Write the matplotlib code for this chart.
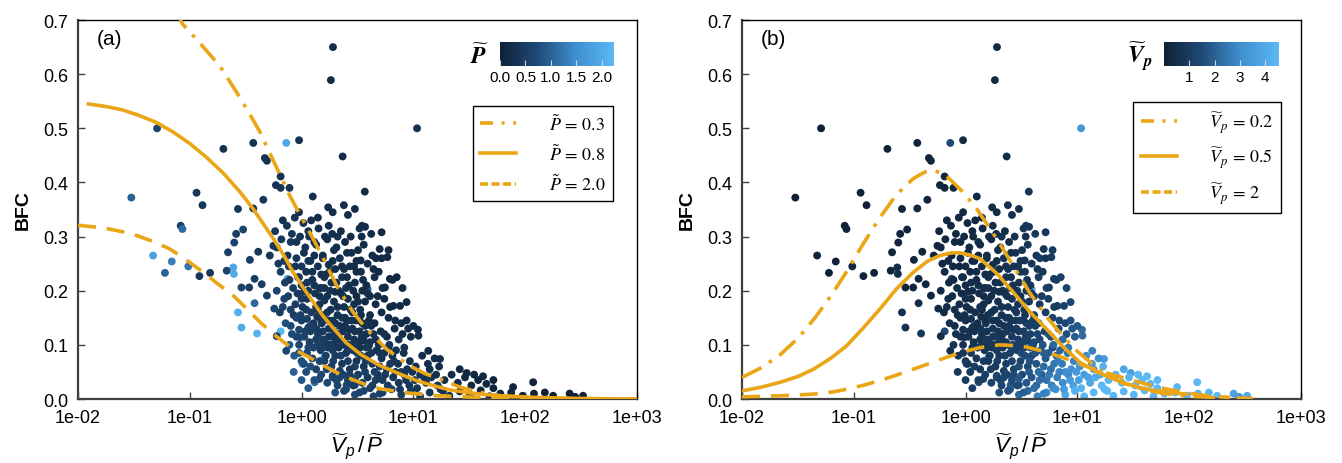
import numpy as np
import matplotlib.pyplot as plt
from matplotlib.colors import LinearSegmentedColormap, Normalize
from matplotlib.font_manager import FontProperties
from matplotlib.lines import Line2D
from matplotlib.ticker import FixedLocator, FuncFormatter, NullLocator

plt.rcParams['font.family'] = ['Liberation Sans', 'DejaVu Sans']
plt.rcParams['mathtext.fontset'] = 'custom'
plt.rcParams['mathtext.rm'] = 'Liberation Sans'
plt.rcParams['mathtext.it'] = 'Liberation Sans:italic'
plt.rcParams['mathtext.bf'] = 'Liberation Sans:bold'

# ---- scattered samples: ratio = Vp/P, BFC, P (Vp follows from ratio * P) ----
# isolated points outside the main cloud
ratio_outer = [
    0.051, 0.030, 0.115, 0.130, 0.083, 0.086, 0.047, 0.060,
    0.069, 0.097, 0.122, 0.152, 0.20, 0.37, 0.73, 0.95,
    0.47, 0.49, 0.65, 0.59, 0.65, 0.78, 2.33, 1.26,
    2.39, 3.0, 0.455, 0.37, 0.27, 0.30, 0.26, 0.25,
    0.22, 0.345, 0.245, 0.248, 0.214, 0.29, 0.34, 0.38,
    0.44, 0.49, 0.41, 0.52, 0.56, 0.27, 0.29, 0.40,
    0.38, 0.57, 0.64, 0.65, 0.60, 0.73, 1.02, 1.31,
    1.44, 1.60, 0.97, 1.15, 2.53, 3.0, 1.9, 2.06,
    0.75, 1.91, 1.83, 3.68, 10.8, 1.73, 3.47, 3.7,
    5.2, 5.0, 5.85, 4.63, 3.38, 6.17, 8.0, 5.57,
    8.7, 6.62, 11.1, 13.6, 17.3, 26, 35, 42,
    52, 78, 118, 178, 330, 250, 30, 3.9,
]
bfc_outer = [
    0.50, 0.372, 0.381, 0.358, 0.320, 0.314, 0.265, 0.233,
    0.254, 0.245, 0.227, 0.233, 0.462, 0.473, 0.473, 0.478,
    0.445, 0.44, 0.411, 0.395, 0.39, 0.39, 0.448, 0.374,
    0.358, 0.351, 0.368, 0.352, 0.351, 0.313, 0.305, 0.289,
    0.271, 0.257, 0.243, 0.231, 0.237, 0.206, 0.206, 0.222,
    0.212, 0.191, 0.272, 0.265, 0.283, 0.160, 0.132, 0.121,
    0.177, 0.167, 0.160, 0.125, 0.116, 0.089, 0.065, 0.031,
    0.037, 0.077, 0.114, 0.132, 0.026, 0.026, 0.043, 0.034,
    0.222, 0.650, 0.589, 0.383, 0.50, 0.354, 0.320, 0.318,
    0.308, 0.277, 0.262, 0.260, 0.256, 0.222, 0.205, 0.206,
    0.179, 0.172, 0.117, 0.089, 0.074, 0.055, 0.045, 0.042,
    0.035, 0.022, 0.031, 0.006, 0.006, 0.010, 0.048, 0.203,
]
p_outer = [
    0.6, 1.0, 0.4, 0.4, 0.5, 1.1, 1.8, 1.0,
    1.3, 1.2, 0.4, 0.4, 0.3, 0.3, 1.9, 0.3,
    0.3, 0.3, 0.3, 0.35, 0.35, 0.3, 0.2, 0.25,
    0.2, 0.2, 0.4, 0.4, 0.4, 0.6, 0.5, 0.6,
    0.5, 0.5, 1.9, 2.0, 0.6, 0.6, 0.5, 0.5,
    0.5, 0.5, 0.4, 0.4, 0.4, 2.1, 2.0, 2.1,
    1.1, 0.6, 0.5, 2.2, 0.6, 0.7, 1.4, 1.1,
    0.7, 1.7, 0.7, 0.6, 0.7, 0.6, 0.7, 0.7,
    1.8, 0.2, 0.2, 0.2, 0.3, 0.25, 0.2, 0.2,
    0.15, 0.15, 0.15, 0.2, 0.2, 0.15, 0.15, 0.15,
    0.15, 0.15, 0.2, 0.2, 0.2, 0.15, 0.15, 0.12,
    0.1, 0.08, 0.06, 0.03, 0.012, 0.015, 0.12, 1.0,
]

# main cloud, upper part (BFC > 0.15)
ratio_upper = [
    0.68, 0.95, 1.15, 1.4, 1.75, 2.1, 2.6, 3.3, 4.2, 0.82, 1.9, 1.3,
    0.6, 0.75, 0.9, 1.05, 1.2, 1.35, 1.55, 1.7, 1.95, 2.2, 2.45, 2.8,
    3.1, 3.6, 4.3, 5.2, 6.0, 0.7,
    0.65, 0.78, 0.88, 1.0, 1.1, 1.25, 1.4, 1.5, 1.65, 1.85, 2.0, 2.3,
    2.5, 2.7, 3.0, 3.4, 3.8, 4.5, 5.3, 6.5, 7.1, 1.15, 2.15, 0.95, 1.75,
    0.7, 0.8, 0.92, 1.02, 1.12, 1.22, 1.32, 1.45, 1.58, 1.7, 1.82, 1.95,
    2.1, 2.25, 2.4, 2.6, 2.85, 3.1, 3.35, 3.7, 4.1, 4.6, 5.2, 6.2,
    7.6, 0.85, 1.38, 2.0, 2.95, 1.05, 3.9, 1.6,
]
bfc_upper = [
    0.33, 0.345, 0.31, 0.335, 0.32, 0.30, 0.34, 0.315, 0.305, 0.305, 0.345, 0.29,
    0.28, 0.265, 0.29, 0.27, 0.255, 0.285, 0.265, 0.295, 0.275, 0.26, 0.29, 0.27,
    0.255, 0.285, 0.265, 0.26, 0.275, 0.255,
    0.235, 0.22, 0.245, 0.21, 0.235, 0.22, 0.245, 0.205, 0.23, 0.215, 0.24, 0.225,
    0.205, 0.245, 0.215, 0.235, 0.21, 0.225, 0.205, 0.22, 0.225, 0.2, 0.2, 0.225, 0.248,
    0.185, 0.165, 0.195, 0.17, 0.185, 0.16, 0.195, 0.175, 0.155, 0.19, 0.165, 0.18,
    0.155, 0.195, 0.17, 0.185, 0.16, 0.19, 0.165, 0.18, 0.155, 0.175, 0.16, 0.17,
    0.172, 0.155, 0.152, 0.198, 0.175, 0.198, 0.195, 0.182,
]
p_upper = [
    0.3, 0.25, 0.3, 0.2, 0.25, 0.3, 0.2, 0.25, 0.2, 0.35, 0.2, 0.3,
    0.4, 0.35, 0.3, 0.3, 0.35, 0.25, 0.3, 0.2, 0.25, 0.3, 0.2, 0.25,
    0.2, 0.2, 0.2, 0.15, 0.15, 0.45,
    0.5, 0.45, 0.35, 0.4, 0.3, 0.35, 0.3, 0.35, 0.3, 0.3, 0.25, 0.3,
    0.3, 0.25, 0.25, 0.25, 0.2, 0.2, 0.2, 0.15, 0.15, 0.4, 0.3, 0.45, 0.25,
    0.6, 0.55, 0.45, 0.45, 0.4, 0.45, 0.35, 0.35, 0.4, 0.3, 0.35, 0.3,
    0.35, 0.25, 0.3, 0.25, 0.3, 0.2, 0.25, 0.2, 0.25, 0.2, 0.2, 0.15,
    0.15, 0.5, 0.4, 0.25, 0.25, 0.4, 0.2, 0.3,
]

# main cloud, middle part (0.05 < BFC < 0.15)
ratio_mid = [
    0.8, 0.9, 1.0, 1.08, 1.18, 1.28, 1.4, 1.5, 1.62, 1.75, 1.88, 2.0,
    2.15, 2.3, 2.45, 2.6, 2.8, 3.0, 3.25, 3.5, 3.8, 4.2, 4.6, 5.1,
    5.8, 6.8, 8.0, 9.5, 11.0, 1.12, 1.95, 2.7, 3.6, 0.95, 1.55,
    0.95, 1.05, 1.15, 1.25, 1.35, 1.48, 1.6, 1.72, 1.85, 2.0, 2.15, 2.3,
    2.5, 2.7, 2.9, 3.1, 3.35, 3.6, 3.9, 4.3, 4.7, 5.2, 5.8, 6.5,
    7.3, 8.2, 9.3, 10.5, 12.0, 13.5, 15.5, 17.0, 1.4, 2.2, 3.0, 4.0, 6.0, 1.1,
]
bfc_mid = [
    0.135, 0.115, 0.145, 0.125, 0.105, 0.14, 0.12, 0.145, 0.105, 0.13, 0.115, 0.14,
    0.12, 0.105, 0.135, 0.115, 0.145, 0.125, 0.105, 0.14, 0.12, 0.135, 0.11, 0.125,
    0.115, 0.13, 0.12, 0.115, 0.128, 0.148, 0.102, 0.128, 0.108, 0.128, 0.125,
    0.085, 0.065, 0.095, 0.075, 0.055, 0.09, 0.07, 0.095, 0.06, 0.08, 0.095, 0.065,
    0.085, 0.055, 0.09, 0.07, 0.095, 0.06, 0.08, 0.065, 0.09, 0.075, 0.055, 0.08,
    0.065, 0.085, 0.07, 0.06, 0.08, 0.065, 0.075, 0.06, 0.1, 0.052, 0.1, 0.098, 0.095, 0.05,
]
p_mid = [
    0.7, 0.6, 0.5, 0.55, 0.5, 0.45, 0.45, 0.4, 0.45, 0.4, 0.4, 0.35,
    0.35, 0.4, 0.3, 0.35, 0.3, 0.3, 0.35, 0.25, 0.3, 0.25, 0.3, 0.25,
    0.25, 0.2, 0.2, 0.2, 0.2, 0.5, 0.4, 0.3, 0.3, 0.65, 0.45,
    0.8, 0.7, 0.6, 0.65, 0.6, 0.5, 0.55, 0.45, 0.5, 0.45, 0.4, 0.45,
    0.4, 0.45, 0.35, 0.4, 0.3, 0.4, 0.35, 0.4, 0.3, 0.35, 0.4, 0.3,
    0.35, 0.3, 0.3, 0.3, 0.25, 0.25, 0.2, 0.25, 0.55, 0.5, 0.35, 0.3, 0.25, 0.75,
]

# main cloud, bottom part (BFC < 0.05)
ratio_low = [
    1.3, 1.5, 1.7, 1.9, 2.1, 2.35, 2.6, 2.9, 3.2, 3.5, 3.9, 4.3,
    4.8, 5.3, 5.9, 6.6, 7.4, 8.3, 9.2, 10.3, 11.5, 13.0, 14.5, 16.5,
    19.0, 22.0, 25.0, 29.0, 33.0, 38.0, 45.0, 52.0,
    2.0, 2.5, 3.0, 3.6, 4.4, 5.3, 6.4, 7.8, 9.5, 11.5, 14.0, 17.5,
    21.0, 26.0, 32.0, 40.0, 48.0, 60.0, 75.0, 95.0, 120.0, 150.0, 280.0,
]
bfc_low = [
    0.035, 0.045, 0.03, 0.04, 0.025, 0.045, 0.035, 0.025, 0.045, 0.03, 0.04, 0.025,
    0.045, 0.035, 0.025, 0.04, 0.03, 0.045, 0.025, 0.035, 0.045, 0.03, 0.04, 0.025,
    0.035, 0.045, 0.03, 0.04, 0.025, 0.035, 0.028, 0.02,
    0.012, 0.018, 0.008, 0.015, 0.005, 0.012, 0.018, 0.008, 0.015, 0.005, 0.012, 0.018,
    0.006, 0.014, 0.008, 0.016, 0.005, 0.01, 0.012, 0.006, 0.01, 0.012, 0.004,
]
p_low = [
    0.8, 0.7, 0.7, 0.6, 0.6, 0.55, 0.55, 0.5, 0.45, 0.5, 0.45, 0.5,
    0.4, 0.45, 0.45, 0.4, 0.4, 0.35, 0.4, 0.35, 0.3, 0.3, 0.28, 0.3,
    0.25, 0.2, 0.2, 0.15, 0.15, 0.12, 0.1, 0.09,
    0.8, 0.7, 0.7, 0.6, 0.6, 0.55, 0.5, 0.5, 0.45, 0.4, 0.35, 0.3,
    0.3, 0.22, 0.18, 0.14, 0.12, 0.1, 0.08, 0.06, 0.05, 0.03, 0.012,
]

# densest core of the cloud
ratio_core = [
    1.3, 1.45, 1.6, 1.8, 2.05, 2.35, 2.55, 2.9, 3.2, 3.5,
    1.35, 1.52, 1.7, 1.9, 2.1, 2.3, 2.55, 2.75, 3.05, 3.4,
    1.2, 1.35, 1.55, 1.75, 1.95, 2.2, 2.4, 2.65, 2.95, 3.3,
    3.7, 4.0, 4.4, 4.9, 1.65, 1.9, 2.25, 2.6, 3.0, 3.4,
    3.8, 4.2, 4.5, 5.0, 5.5, 6.2, 7.0, 7.8, 8.8, 1.0,
    1.1, 0.88, 0.98, 1.2, 1.45, 1.25, 1.55, 1.9, 2.3, 2.65,
    3.1, 3.55, 4.1, 4.8, 5.5, 6.0, 6.9, 7.8, 8.7, 10.0,
]
bfc_core = [
    0.21, 0.19, 0.225, 0.2, 0.215, 0.19, 0.225, 0.2, 0.18, 0.2,
    0.17, 0.14, 0.16, 0.145, 0.17, 0.15, 0.145, 0.165, 0.145, 0.155,
    0.125, 0.11, 0.095, 0.115, 0.125, 0.135, 0.1, 0.1, 0.11, 0.125,
    0.135, 0.145, 0.12, 0.1, 0.08, 0.09, 0.08, 0.07, 0.06, 0.08,
    0.095, 0.085, 0.05, 0.06, 0.085, 0.065, 0.09, 0.05, 0.055, 0.185,
    0.165, 0.175, 0.155, 0.135, 0.205, 0.235, 0.26, 0.255, 0.245, 0.21,
    0.235, 0.22, 0.19, 0.19, 0.185, 0.15, 0.145, 0.14, 0.145, 0.135,
]
p_core = [
    0.35, 0.3, 0.3, 0.3, 0.28, 0.28, 0.25, 0.25, 0.25, 0.22,
    0.4, 0.4, 0.35, 0.35, 0.3, 0.35, 0.3, 0.3, 0.3, 0.25,
    0.5, 0.5, 0.5, 0.45, 0.4, 0.35, 0.4, 0.4, 0.35, 0.3,
    0.28, 0.25, 0.3, 0.35, 0.55, 0.5, 0.5, 0.5, 0.5, 0.45,
    0.4, 0.4, 0.5, 0.45, 0.35, 0.4, 0.3, 0.4, 0.35, 0.45,
    0.45, 0.5, 0.55, 0.5, 0.3, 0.3, 0.28, 0.25, 0.25, 0.25,
    0.22, 0.22, 0.2, 0.2, 0.18, 0.2, 0.2, 0.18, 0.18, 0.18,
]

# extra points filling the cloud
ratio_fill = [
    0.58, 0.62, 0.66, 0.71, 0.74, 0.77, 0.8, 0.84, 0.87, 0.9,
    0.93, 0.97, 1.0, 1.04, 1.08, 1.12, 1.17, 0.6, 0.68, 0.76,
    1.22, 1.3, 1.42, 1.5, 1.62, 1.78, 1.88, 2.05, 2.25, 2.4,
    2.55, 2.75, 2.95, 3.2, 3.45, 3.9, 4.4, 4.9, 1.15, 1.6,
    0.72, 0.78, 0.82, 0.86, 0.9, 0.95, 1.0, 1.06, 1.12, 1.2,
    1.28, 1.36, 1.45, 1.55, 1.68, 1.8, 1.92, 0.85, 1.0, 1.15,
    2.2, 2.4, 2.7, 3.0, 3.3, 3.7, 4.1, 4.6, 5.0, 5.6,
    6.1, 6.9, 7.6, 8.6, 9.8, 10.8, 12.5, 14.0, 16.0, 18.5,
    2.1, 2.35, 2.6, 2.85, 3.15, 3.45, 3.75, 4.1, 4.5, 5.0,
    5.5, 6.1, 6.7, 7.4, 8.3, 9.0, 3.3, 2.45, 1.75, 1.4,
]
bfc_fill = [
    0.31, 0.25, 0.295, 0.215, 0.32, 0.245, 0.29, 0.205, 0.335, 0.26,
    0.225, 0.3, 0.245, 0.325, 0.28, 0.215, 0.3, 0.2, 0.17, 0.19,
    0.33, 0.265, 0.315, 0.23, 0.3, 0.235, 0.305, 0.28, 0.31, 0.24,
    0.27, 0.3, 0.245, 0.275, 0.3, 0.25, 0.24, 0.235, 0.255, 0.205,
    0.14, 0.1, 0.12, 0.08, 0.15, 0.1, 0.07, 0.115, 0.085, 0.06,
    0.095, 0.13, 0.07, 0.11, 0.055, 0.1, 0.07, 0.05, 0.035, 0.02,
    0.04, 0.015, 0.045, 0.038, 0.012, 0.05, 0.02, 0.035, 0.01, 0.045,
    0.02, 0.05, 0.018, 0.035, 0.05, 0.02, 0.04, 0.055, 0.045, 0.015,
    0.11, 0.125, 0.09, 0.13, 0.085, 0.115, 0.07, 0.105, 0.14, 0.085,
    0.12, 0.1, 0.07, 0.11, 0.095, 0.13, 0.145, 0.15, 0.145, 0.165,
]
p_fill = [
    0.4, 0.45, 0.4, 0.5, 0.35, 0.45, 0.4, 0.5, 0.3, 0.4,
    0.45, 0.35, 0.4, 0.3, 0.35, 0.4, 0.3, 0.6, 0.6, 0.55,
    0.25, 0.3, 0.25, 0.3, 0.25, 0.28, 0.22, 0.25, 0.2, 0.25,
    0.22, 0.2, 0.22, 0.2, 0.18, 0.2, 0.18, 0.16, 0.3, 0.3,
    0.8, 0.9, 0.75, 0.9, 0.6, 0.7, 0.8, 0.6, 0.7, 0.8,
    0.6, 0.5, 0.65, 0.5, 0.6, 0.45, 0.55, 1.0, 0.9, 0.9,
    0.6, 0.65, 0.55, 0.6, 0.6, 0.5, 0.55, 0.5, 0.55, 0.45,
    0.5, 0.4, 0.45, 0.4, 0.35, 0.4, 0.3, 0.25, 0.25, 0.28,
    0.4, 0.35, 0.45, 0.3, 0.45, 0.35, 0.45, 0.35, 0.25, 0.4,
    0.3, 0.35, 0.4, 0.3, 0.3, 0.2, 0.28, 0.3, 0.35, 0.35,
]

# ---- model curves ----
a_p03_x = [0.075, 0.086, 0.12, 0.186, 0.26, 0.34, 0.425, 0.56, 0.787, 1.0, 1.27, 1.65, 2.1, 2.9, 3.82,
           5.77, 9.3, 13, 17.3, 26, 40, 60, 100, 150, 1000]
a_p03_y = [0.72, 0.693, 0.66, 0.615, 0.568, 0.528, 0.493, 0.44, 0.375, 0.335, 0.296, 0.25, 0.206, 0.16, 0.129,
           0.092, 0.061, 0.046, 0.037, 0.022, 0.012, 0.006, 0.003, 0.001, 0.0]
a_p08_x = [0.0124, 0.018, 0.025, 0.035, 0.05, 0.07, 0.1, 0.14, 0.2, 0.28, 0.37, 0.46, 0.56, 0.7, 0.84,
           1.04, 1.27, 1.55, 1.92, 2.5, 3.4, 5.0, 7.6, 11, 15, 21, 30, 45, 60, 120, 300, 1000]
a_p08_y = [0.545, 0.54, 0.534, 0.524, 0.511, 0.494, 0.472, 0.447, 0.417, 0.383, 0.351, 0.322, 0.296, 0.264, 0.234,
           0.205, 0.179, 0.154, 0.131, 0.104, 0.082, 0.062, 0.046, 0.033, 0.025, 0.017, 0.012, 0.008, 0.006,
           0.003, 0.001, 0.0]
a_p20_x = [0.01, 0.017, 0.025, 0.0335, 0.047, 0.0665, 0.093, 0.132, 0.18, 0.245, 0.33, 0.425, 0.6, 0.843,
           1.15, 1.56, 2.4, 3.5, 5.0, 9.0, 17, 50, 200, 1000]
a_p20_y = [0.321, 0.316, 0.309, 0.302, 0.291, 0.277, 0.257, 0.234, 0.212, 0.191, 0.165, 0.142, 0.115, 0.092,
           0.078, 0.062, 0.042, 0.029, 0.019, 0.011, 0.006, 0.002, 0.0, 0.0]

b_v02_x = [0.01, 0.015, 0.022, 0.032, 0.045, 0.065, 0.086, 0.12, 0.171, 0.24, 0.34, 0.43, 0.514, 0.62, 0.724,
           0.95, 1.26, 1.9, 2.67, 3.7, 5.3, 7.5, 10, 15.9, 25, 40, 60, 100, 164, 372]
b_v02_y = [0.040, 0.058, 0.082, 0.113, 0.150, 0.196, 0.235, 0.285, 0.335, 0.377, 0.407, 0.419, 0.422, 0.417,
           0.406, 0.382, 0.351, 0.296, 0.246, 0.198, 0.152, 0.115, 0.088, 0.053, 0.030, 0.017, 0.010, 0.005,
           0.003, 0.001]
b_v05_x = [0.01, 0.015, 0.022, 0.032, 0.0435, 0.062, 0.086, 0.12, 0.171, 0.24, 0.34, 0.46, 0.59, 0.75, 0.89,
           1.1, 1.35, 1.9, 2.67, 3.8, 5.3, 7.5, 10.5, 15, 21, 30, 41.6, 60, 95]
b_v05_y = [0.015, 0.022, 0.031, 0.042, 0.055, 0.075, 0.098, 0.13, 0.166, 0.203, 0.234, 0.255, 0.265, 0.270,
           0.270, 0.266, 0.259, 0.232, 0.197, 0.160, 0.129, 0.096, 0.068, 0.050, 0.037, 0.026, 0.018, 0.013,
           0.009]
b_v2_x = [0.01, 0.022, 0.0435, 0.065, 0.086, 0.12, 0.171, 0.24, 0.34, 0.48, 0.675, 0.95, 1.35, 2.0, 2.6,
          3.5, 5.0, 7.8, 11, 15.9, 24, 36, 52, 76, 120, 190, 232]
b_v2_y = [0.004, 0.006, 0.009, 0.013, 0.018, 0.025, 0.034, 0.044, 0.055, 0.066, 0.077, 0.087, 0.095, 0.100,
          0.099, 0.096, 0.088, 0.075, 0.063, 0.052, 0.041, 0.031, 0.022, 0.015, 0.008, 0.004, 0.003]

x_ticks = [1e-2, 1e-1, 1e0, 1e1, 1e2, 1e3]
y_ticks = [0.0, 0.1, 0.2, 0.3, 0.4, 0.5, 0.6, 0.7]
p_cbar_ticks = [0.0, 0.5, 1.0, 1.5, 2.0]
vp_cbar_ticks = [1, 2, 3, 4]

ratio = np.concatenate([ratio_outer, ratio_upper, ratio_mid, ratio_low, ratio_core, ratio_fill])
bfc = np.concatenate([bfc_outer, bfc_upper, bfc_mid, bfc_low, bfc_core, bfc_fill])
p_t = np.concatenate([p_outer, p_upper, p_mid, p_low, p_core, p_fill])
vp_t = ratio * p_t

gold = '#EAA616'
lw = 2.6
cmap = LinearSegmentedColormap.from_list('bfc', ['#0f2136', '#1f4b78', '#3f8fcf', '#5bb8f5'])
dashdot = (0, (6, 2.5, 1, 2.5))
dashed = (0, (5, 3))
leg_font = FontProperties(family='DejaVu Serif', size=13, math_fontfamily='stix')


def style_axes(ax, tag):
    ax.set_xscale('log')
    ax.set_xlim(1e-2, 1e3)
    ax.set_ylim(0, 0.7)
    ax.xaxis.set_major_locator(FixedLocator(x_ticks))
    ax.xaxis.set_minor_locator(NullLocator())
    ax.xaxis.set_major_formatter(FuncFormatter(lambda v, pos: f'{v:.0e}'))
    ax.set_yticks(y_ticks)
    ax.yaxis.set_major_formatter(FuncFormatter(lambda v, pos: f'{v:.1f}'))
    ax.tick_params(direction='in', length=5, width=1, labelsize=13, pad=7, color='#404040')
    for s in ['left', 'bottom']:
        ax.spines[s].set_linewidth(1.6)
        ax.spines[s].set_color('#404040')
    for s in ['top', 'right']:
        ax.spines[s].set_linewidth(1.0)
        ax.spines[s].set_color('black')
    ax.set_ylabel('BFC', fontsize=14, fontweight='bold', labelpad=8)
    ax.set_xlabel(r'$\widetilde{V}_p\,/\,\widetilde{P}$', fontsize=16, labelpad=3)
    ax.text(0.034, 0.975, tag, transform=ax.transAxes, fontsize=15, va='top')


def add_legend(ax, labels, anchor):
    handles = [Line2D([], [], color=gold, lw=lw, ls=(0, (3.6, 2.4, 0.8, 2.4))),
               Line2D([], [], color=gold, lw=lw, ls='-'),
               Line2D([], [], color=gold, lw=lw, ls=(0, (2.2, 1.0)))]
    leg = ax.legend(handles, labels, loc='upper right', bbox_to_anchor=anchor, prop=leg_font,
                    frameon=True, fancybox=False, edgecolor='black', framealpha=1, handlelength=2.0,
                    handletextpad=1.8, labelspacing=0.55, borderpad=0.4, borderaxespad=0)
    leg.get_frame().set_linewidth(1.0)


fig = plt.figure(figsize=(13.42, 4.64), dpi=100)
ax_a = fig.add_axes([0.0581, 0.1379, 0.4165, 0.8168])
ax_b = fig.add_axes([0.5529, 0.1379, 0.4165, 0.8168])

# (a) coloured by P
sc_a = ax_a.scatter(ratio, bfc, c=p_t, cmap=cmap, norm=Normalize(0, 2.24), s=32, linewidths=0, zorder=2)
ax_a.plot(a_p03_x, a_p03_y, color=gold, lw=lw, ls=dashdot, zorder=3)
ax_a.plot(a_p08_x, a_p08_y, color=gold, lw=lw, ls='-', zorder=3)
ax_a.plot(a_p20_x, a_p20_y, color=gold, lw=lw, ls=dashed, zorder=3)
style_axes(ax_a, '(a)')
add_legend(ax_a, [r'$\tilde{P}\,=\,0.3$', r'$\tilde{P}\,=\,0.8$', r'$\tilde{P}\,=\,2.0$'], (0.957, 0.773))

# (b) coloured by Vp
sc_b = ax_b.scatter(ratio, bfc, c=vp_t, cmap=cmap, norm=Normalize(0, 4.55), s=32, linewidths=0, zorder=2)
ax_b.plot(b_v02_x, b_v02_y, color=gold, lw=lw, ls=dashdot, zorder=3)
ax_b.plot(b_v05_x, b_v05_y, color=gold, lw=lw, ls='-', zorder=3)
ax_b.plot(b_v2_x, b_v2_y, color=gold, lw=lw, ls=dashed, zorder=3)
style_axes(ax_b, '(b)')
add_legend(ax_b, [r'$\widetilde{V}_p\,=\,0.2$', r'$\widetilde{V}_p\,=\,0.5$', r'$\widetilde{V}_p\,=\,2$'],
           (0.964, 0.784))

# colour bars
for sc, rect, ticks, labels, name in [
        (sc_a, [0.3726, 0.8556, 0.0849, 0.0517], p_cbar_ticks, ['0.0', '0.5', '1.0', '1.5', '2.0'],
         r'$\mathbfit{\widetilde{P}}$'),
        (sc_b, [0.8674, 0.8556, 0.0857, 0.0517], vp_cbar_ticks, ['1', '2', '3', '4'],
         r'$\mathbfit{\widetilde{V}_p}$')]:
    cax = fig.add_axes(rect)
    cb = fig.colorbar(sc, cax=cax, orientation='horizontal')
    cb.set_ticks(ticks)
    cb.set_ticklabels(labels)
    cb.outline.set_visible(False)
    cax.tick_params(direction='in', length=4, width=0.8, color='#d0d8e0', labelsize=11, pad=3)
    cax.text(-0.1, 0.45, name, transform=cax.transAxes, ha='right', va='center',
             fontsize=17, math_fontfamily='stix')

fig.savefig('out.png', dpi=100)
